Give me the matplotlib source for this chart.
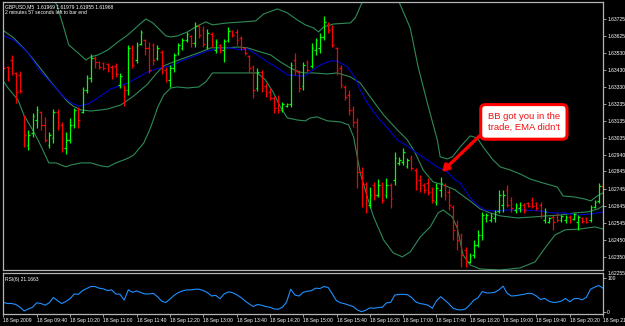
import numpy as np
import matplotlib.pyplot as plt

plt.rcParams["font.family"] = ["Liberation Sans", "DejaVu Sans"]

# GBPUSD M5, 18 Sep 2009, one bar every 5 minutes from 09:00 to 21:00
bar_open = [
    1.63488, 1.63448, 1.63488, 1.63413, 1.63402, 1.63165, 1.62997, 1.63066, 1.63141, 1.63188,
    1.63113, 1.62997, 1.63037, 1.63188, 1.63113, 1.62980, 1.63026, 1.63113, 1.63199, 1.63188,
    1.63315, 1.63384, 1.63500, 1.63477, 1.63471, 1.63465, 1.63448, 1.63454, 1.63344, 1.63338,
    1.63315, 1.63558, 1.63488, 1.63581, 1.63604, 1.63558, 1.63575, 1.63500, 1.63534, 1.63430,
    1.63373, 1.63442, 1.63529, 1.63558, 1.63604, 1.63627, 1.63586, 1.63685, 1.63662, 1.63563,
    1.63638, 1.63546, 1.63575, 1.63546, 1.63604, 1.63656, 1.63650, 1.63615, 1.63558, 1.63511,
    1.63448, 1.63326, 1.63419, 1.63338, 1.63303, 1.63269, 1.63257, 1.63199, 1.63222, 1.63234,
    1.63488, 1.63419, 1.63338, 1.63477, 1.63454, 1.63546, 1.63558, 1.63621, 1.63696, 1.63673,
    1.63558, 1.63442, 1.63332, 1.63286, 1.63199, 1.63130, 1.62841, 1.62772, 1.62650, 1.62766,
    1.62708, 1.62766, 1.62708, 1.62766, 1.62795, 1.62893, 1.62899, 1.62876, 1.62922, 1.62852,
    1.62795, 1.62766, 1.62777, 1.62748, 1.62667, 1.62737, 1.62766, 1.62725, 1.62639, 1.62535,
    1.62477, 1.62390, 1.62321, 1.62361, 1.62419, 1.62477, 1.62575, 1.62563, 1.62575, 1.62615,
    1.62650, 1.62737, 1.62679, 1.62621, 1.62633, 1.62650, 1.62662, 1.62679, 1.62662, 1.62650,
    1.62563, 1.62552, 1.62581, 1.62592, 1.62563, 1.62563, 1.62581, 1.62569, 1.62552, 1.62575,
    1.62575, 1.62563, 1.62639, 1.62673, 1.62760,
]
bar_high = [
    1.63500, 1.63454, 1.63517, 1.63419, 1.63425, 1.63170, 1.63084, 1.63182, 1.63222, 1.63193,
    1.63159, 1.63072, 1.63205, 1.63205, 1.63130, 1.63072, 1.63153, 1.63211, 1.63217, 1.63332,
    1.63402, 1.63523, 1.63511, 1.63482, 1.63477, 1.63471, 1.63459, 1.63471, 1.63413, 1.63344,
    1.63575, 1.63575, 1.63592, 1.63662, 1.63610, 1.63592, 1.63586, 1.63575, 1.63546, 1.63448,
    1.63459, 1.63529, 1.63586, 1.63615, 1.63650, 1.63633, 1.63708, 1.63696, 1.63685, 1.63667,
    1.63650, 1.63610, 1.63581, 1.63610, 1.63679, 1.63662, 1.63667, 1.63627, 1.63563, 1.63517,
    1.63459, 1.63442, 1.63430, 1.63355, 1.63326, 1.63280, 1.63286, 1.63245, 1.63240, 1.63477,
    1.63529, 1.63430, 1.63477, 1.63488, 1.63586, 1.63615, 1.63644, 1.63743, 1.63708, 1.63691,
    1.63563, 1.63459, 1.63344, 1.63315, 1.63222, 1.63153, 1.62870, 1.62783, 1.62754, 1.62783,
    1.62800, 1.62783, 1.62806, 1.62777, 1.62956, 1.62928, 1.62980, 1.62922, 1.62939, 1.62864,
    1.62824, 1.62777, 1.62806, 1.62754, 1.62777, 1.62812, 1.62777, 1.62748, 1.62650, 1.62563,
    1.62488, 1.62407, 1.62373, 1.62448, 1.62506, 1.62610, 1.62604, 1.62604, 1.62621, 1.62737,
    1.62737, 1.62766, 1.62696, 1.62662, 1.62667, 1.62662, 1.62667, 1.62696, 1.62667, 1.62667,
    1.62633, 1.62581, 1.62592, 1.62604, 1.62592, 1.62592, 1.62592, 1.62604, 1.62592, 1.62581,
    1.62581, 1.62650, 1.62679, 1.62777, 1.62777,
]
bar_low = [
    1.63430, 1.63367, 1.63402, 1.63240, 1.63297, 1.62985, 1.62968, 1.63043, 1.63095, 1.63084,
    1.63014, 1.62980, 1.63008, 1.63084, 1.62956, 1.62945, 1.63008, 1.63095, 1.63095, 1.63182,
    1.63297, 1.63361, 1.63442, 1.63436, 1.63430, 1.63419, 1.63378, 1.63390, 1.63326, 1.63222,
    1.63286, 1.63442, 1.63471, 1.63575, 1.63517, 1.63413, 1.63459, 1.63488, 1.63407, 1.63361,
    1.63332, 1.63419, 1.63517, 1.63546, 1.63592, 1.63563, 1.63563, 1.63615, 1.63563, 1.63552,
    1.63563, 1.63529, 1.63529, 1.63477, 1.63592, 1.63621, 1.63575, 1.63546, 1.63517, 1.63413,
    1.63269, 1.63309, 1.63303, 1.63274, 1.63257, 1.63182, 1.63182, 1.63188, 1.63217, 1.63217,
    1.63402, 1.63303, 1.63315, 1.63419, 1.63442, 1.63517, 1.63529, 1.63604, 1.63644, 1.63563,
    1.63402, 1.63326, 1.63257, 1.63170, 1.63101, 1.62748, 1.62639, 1.62604, 1.62633, 1.62679,
    1.62696, 1.62662, 1.62691, 1.62633, 1.62766, 1.62881, 1.62881, 1.62864, 1.62852, 1.62737,
    1.62725, 1.62720, 1.62708, 1.62662, 1.62650, 1.62696, 1.62679, 1.62621, 1.62448, 1.62390,
    1.62292, 1.62292, 1.62315, 1.62344, 1.62407, 1.62448, 1.62552, 1.62552, 1.62552, 1.62604,
    1.62610, 1.62639, 1.62610, 1.62604, 1.62610, 1.62604, 1.62639, 1.62633, 1.62621, 1.62575,
    1.62546, 1.62546, 1.62506, 1.62552, 1.62552, 1.62546, 1.62546, 1.62563, 1.62506, 1.62546,
    1.62546, 1.62552, 1.62633, 1.62662, 1.62720,
]
bar_close = [
    1.63442, 1.63384, 1.63413, 1.63303, 1.63309, 1.63055, 1.63055, 1.63165, 1.63199, 1.63113,
    1.63026, 1.63055, 1.63188, 1.63113, 1.62980, 1.63026, 1.63113, 1.63199, 1.63141, 1.63315,
    1.63384, 1.63500, 1.63477, 1.63448, 1.63442, 1.63430, 1.63396, 1.63407, 1.63396, 1.63315,
    1.63558, 1.63459, 1.63575, 1.63650, 1.63558, 1.63430, 1.63488, 1.63558, 1.63419, 1.63373,
    1.63442, 1.63517, 1.63575, 1.63604, 1.63638, 1.63586, 1.63685, 1.63633, 1.63581, 1.63644,
    1.63575, 1.63592, 1.63546, 1.63598, 1.63656, 1.63633, 1.63604, 1.63563, 1.63529, 1.63442,
    1.63315, 1.63419, 1.63326, 1.63292, 1.63269, 1.63211, 1.63199, 1.63234, 1.63234, 1.63459,
    1.63430, 1.63326, 1.63459, 1.63430, 1.63558, 1.63604, 1.63621, 1.63708, 1.63662, 1.63575,
    1.63430, 1.63344, 1.63274, 1.63199, 1.63130, 1.62841, 1.62806, 1.62679, 1.62708, 1.62708,
    1.62766, 1.62679, 1.62766, 1.62691, 1.62922, 1.62910, 1.62956, 1.62910, 1.62864, 1.62783,
    1.62748, 1.62737, 1.62725, 1.62679, 1.62748, 1.62777, 1.62708, 1.62650, 1.62506, 1.62448,
    1.62361, 1.62321, 1.62355, 1.62419, 1.62477, 1.62592, 1.62592, 1.62587, 1.62610, 1.62708,
    1.62708, 1.62650, 1.62633, 1.62644, 1.62650, 1.62621, 1.62644, 1.62644, 1.62633, 1.62592,
    1.62610, 1.62575, 1.62552, 1.62563, 1.62587, 1.62581, 1.62558, 1.62598, 1.62581, 1.62558,
    1.62552, 1.62639, 1.62667, 1.62760, 1.62737,
]

# Bollinger bands and EMA (bar position, price)
bb_upper_bar = [0.1, 7.8, 11.4, 12.8, 14.3, 15.7, 17.9, 19.8, 21.0, 22.7, 25.1, 27.5, 29.9, 32.3,
                34.2, 35.9, 37.1, 39.0, 40.2, 41.8, 44.2, 46.6, 48.6, 50.2, 53.8, 57.7, 60.6, 62.5,
                65.8, 68.2, 70.6, 72.5, 74.5, 75.7, 76.9, 79.3, 83.3, 84.5, 86.2, 88.6, 91.7, 94.1,
                94.8, 97.7, 99.6, 101.8, 104.2, 104.9, 106.6, 107.8, 109.7, 112.1, 113.8, 115.2,
                117.6, 119.3, 121.7, 124.1, 126.5, 129.6, 133.0, 134.4, 137.1, 139.5, 141.1, 142.6,
                144.0]
bb_upper = [1.63980, 1.63939, 1.63864, 1.63806, 1.63691, 1.63575, 1.63529, 1.63488, 1.63506,
            1.63517, 1.63546, 1.63592, 1.63633, 1.63685, 1.63725, 1.63702, 1.63673, 1.63627,
            1.63621, 1.63627, 1.63650, 1.63685, 1.63708, 1.63691, 1.63702, 1.63708, 1.63714,
            1.63754, 1.63783, 1.63760, 1.63719, 1.63691, 1.63673, 1.63650, 1.63679, 1.63696,
            1.63702, 1.63731, 1.63823, 1.63980, 1.64037, 1.63893, 1.63835, 1.63673, 1.63448,
            1.63240, 1.63026, 1.62928, 1.62916, 1.62928, 1.62985, 1.63049, 1.63037, 1.62985,
            1.62910, 1.62870, 1.62852, 1.62829, 1.62800, 1.62777, 1.62754, 1.62702, 1.62696,
            1.62685, 1.62673, 1.62702, 1.62720]

bb_mid_bar = [0.1, 2.5, 5.9, 9.0, 11.4, 13.8, 15.5, 16.7, 18.6, 21.0, 23.4, 25.1, 28.2, 31.3,
              34.7, 36.6, 38.5, 40.9, 44.2, 47.4, 49.8, 53.8, 56.2, 58.6, 61.8, 64.2, 66.5, 68.9,
              70.9, 72.5, 74.5, 77.8, 80.2, 83.3, 85.7, 88.1, 91.3, 94.6, 97.0, 98.9, 100.8, 103.2,
              105.6, 108.5, 109.7, 112.1, 114.5, 116.9, 119.3, 123.4, 127.5, 130.6, 133.9, 137.1,
              140.4, 142.8, 144.0]
bb_mid = [1.63656, 1.63615, 1.63529, 1.63436, 1.63361, 1.63292, 1.63245, 1.63222, 1.63199,
          1.63193, 1.63199, 1.63205, 1.63228, 1.63280, 1.63350, 1.63407, 1.63454, 1.63477,
          1.63506, 1.63534, 1.63558, 1.63558, 1.63563, 1.63558, 1.63534, 1.63517, 1.63477,
          1.63442, 1.63419, 1.63413, 1.63413, 1.63407, 1.63413, 1.63390, 1.63355, 1.63274,
          1.63170, 1.63084, 1.63026, 1.62951, 1.62852, 1.62783, 1.62766, 1.62737, 1.62714,
          1.62673, 1.62627, 1.62604, 1.62587, 1.62575, 1.62581, 1.62587, 1.62592, 1.62604,
          1.62610, 1.62627, 1.62644]

bb_lower_bar = [0.1, 1.1, 3.5, 4.9, 6.6, 8.3, 9.7, 10.9, 12.6, 15.0, 16.2, 18.6, 21.0, 23.4,
                25.1, 27.0, 28.9, 30.1, 31.3, 33.7, 34.9, 35.4, 36.6, 37.1, 38.5, 40.2, 41.8, 44.2,
                46.9, 48.6, 50.2, 52.2, 54.6, 57.7, 61.0, 62.9, 64.9, 66.5, 68.2, 70.6, 72.5, 73.7,
                75.4, 77.8, 80.9, 82.9, 84.1, 85.7, 87.4, 88.9, 91.3, 93.6, 95.8, 97.7, 100.1,
                102.5, 104.4, 105.6, 107.8, 109.0, 110.4, 112.1, 114.5, 119.3, 124.1, 127.7,
                130.1, 132.5, 134.9, 138.5, 142.1, 144.0]
bb_lower = [1.63361, 1.63326, 1.63257, 1.63170, 1.63101, 1.63026, 1.62956, 1.62893, 1.62893,
            1.62870, 1.62881, 1.62893, 1.62893, 1.62876, 1.62870, 1.62893, 1.62910, 1.62922,
            1.62939, 1.63008, 1.63072, 1.63101, 1.63182, 1.63217, 1.63286, 1.63326, 1.63332,
            1.63326, 1.63332, 1.63361, 1.63413, 1.63413, 1.63413, 1.63413, 1.63413, 1.63373,
            1.63297, 1.63217, 1.63153, 1.63141, 1.63136, 1.63153, 1.63159, 1.63136, 1.63130,
            1.63113, 1.63043, 1.62835, 1.62696, 1.62581, 1.62448, 1.62373, 1.62350, 1.62378,
            1.62465, 1.62523, 1.62604, 1.62621, 1.62581, 1.62517, 1.62361, 1.62303, 1.62280,
            1.62274, 1.62286, 1.62321, 1.62402, 1.62477, 1.62506, 1.62511, 1.62523, 1.62511]

ema_bar = [0.1, 2.5, 5.9, 9.0, 12.1, 14.5, 16.7, 18.1, 20.3, 22.7, 25.8, 29.9, 34.7, 36.6, 40.2,
           43.3, 46.6, 49.0, 51.4, 54.6, 57.0, 58.6, 61.0, 63.4, 65.8, 68.2, 70.6, 72.5, 73.7,
           76.1, 78.5, 80.2, 82.6, 84.5, 85.7, 87.4, 89.8, 92.2, 94.6, 97.0, 98.9, 101.8, 104.2,
           106.6, 108.5, 109.7, 112.1, 113.8, 115.5, 117.9, 121.0, 125.1, 129.1, 131.5, 134.6,
           137.8, 141.1, 144.0]
ema = [1.63627, 1.63604, 1.63529, 1.63419, 1.63338, 1.63274, 1.63234, 1.63222, 1.63234, 1.63269,
       1.63321, 1.63355, 1.63419, 1.63436, 1.63454, 1.63488, 1.63517, 1.63540, 1.63552, 1.63558,
       1.63546, 1.63552, 1.63517, 1.63477, 1.63442, 1.63402, 1.63396, 1.63396, 1.63419, 1.63459,
       1.63482, 1.63482, 1.63448, 1.63384, 1.63315, 1.63240, 1.63159, 1.63095, 1.63026, 1.62991,
       1.62956, 1.62910, 1.62870, 1.62841, 1.62795, 1.62777, 1.62691, 1.62650, 1.62621, 1.62615,
       1.62621, 1.62621, 1.62615, 1.62604, 1.62604, 1.62592, 1.62598, 1.62610]

# RSI(6), one value per bar
rsi = [
    28, 25, 25, 22, 14, 3, 9, 14, 27, 25,
    20, 27, 43, 33, 25, 31, 39, 53, 52, 63,
    69, 75, 75, 70, 68, 63, 65, 53, 52, 35,
    65, 58, 62, 57, 53, 53, 55, 45, 32, 28,
    38, 49, 57, 62, 65, 65, 67, 67, 63, 57,
    47, 49, 39, 53, 59, 57, 51, 43, 33, 24,
    16, 22, 20, 16, 14, 9, 8, 14, 29, 67,
    50, 47, 58, 61, 63, 70, 69, 75, 72, 53,
    33, 27, 24, 20, 16, 6, 1, 5, 12, 11,
    13, 14, 27, 28, 50, 52, 52, 51, 43, 30,
    25, 23, 20, 11, 33, 45, 35, 24, 11, 7,
    6, 9, 21, 35, 42, 60, 56, 56, 58, 65,
    76, 55, 47, 48, 50, 52, 55, 54, 47, 37,
    40, 32, 28, 29, 32, 40, 30, 39, 40, 36,
    43, 67, 73, 78, 70,
]

price_ticks = [1.63725, 1.63625, 1.63530, 1.63430, 1.63330, 1.63235, 1.63135, 1.63035,
               1.62940, 1.62845, 1.62745, 1.62645, 1.62545, 1.62450, 1.62350]
time_ticks = list(range(0, 145, 8))
# the last label runs off the right edge of the window, only "18 Sep 21" shows
time_labels = ["18 Sep 2009", "18 Sep 09:40", "18 Sep 10:20", "18 Sep 11:00", "18 Sep 11:40",
               "18 Sep 12:20", "18 Sep 13:00", "18 Sep 13:40", "18 Sep 14:20", "18 Sep 15:00",
               "18 Sep 15:40", "18 Sep 16:20", "18 Sep 17:00", "18 Sep 17:40", "18 Sep 18:20",
               "18 Sep 19:00", "18 Sep 19:40", "18 Sep 20:20", "18 Sep 21"]

UP = "#00ff00"
DOWN = "#ff0000"
BB_COLOR = "#2e8b57"
EMA_COLOR = "#0000cd"
RSI_COLOR = "#1e90ff"
FRAME = "#b4b4b4"
SMALL = 3.6

W, H = 625, 326
fig = plt.figure(figsize=(W / 100, H / 100), dpi=100, facecolor="black")
ax = fig.add_axes([3 / W, 1 - 270 / H, 600 / W, 268 / H], facecolor="black")
ax_rsi = fig.add_axes([3 / W, 1 - 314 / H, 600 / W, 41 / H], facecolor="black", sharex=ax)

o = np.array(bar_open)
hi = np.array(bar_high)
lo = np.array(bar_low)
c = np.array(bar_close)
x = np.arange(len(c))
colors = np.where(c >= o, UP, DOWN)

ax.plot(bb_upper_bar, bb_upper, color=BB_COLOR, lw=0.8)
ax.plot(bb_mid_bar, bb_mid, color=BB_COLOR, lw=0.8)
ax.plot(bb_lower_bar, bb_lower, color=BB_COLOR, lw=0.8)
ax.plot(ema_bar, ema, color=EMA_COLOR, lw=0.8)

ax.vlines(x, lo, hi, colors=colors, lw=0.9)
ax.hlines(o, x - 0.4, x, colors=colors, lw=0.9)
ax.hlines(c, x, x + 0.4, colors=colors, lw=0.9)

ax.set_xlim(-0.1, 143.8)
ax.set_ylim(1.62274, 1.63823)

for a in (ax, ax_rsi):
    for s in a.spines.values():
        s.set_color(FRAME)
        s.set_linewidth(0.9)
    a.yaxis.tick_right()
    a.tick_params(axis="y", colors=FRAME, labelcolor="white", labelsize=SMALL,
                  length=2, width=0.6, pad=1)

ax.set_yticks(price_ticks)
ax.set_yticklabels([f"{v:.5f}" for v in price_ticks])
ax.tick_params(axis="x", bottom=False, labelbottom=False)
ax.annotate("1.62255", xy=(1.0, 1.62255), xycoords=("axes fraction", "data"),
            xytext=(3, 0), textcoords="offset points", color="white",
            fontsize=SMALL, va="center", annotation_clip=False)

ax.text(0.004, 0.992, "GBPUSD,M5  1.61969 1.61979 1.61955 1.61968", transform=ax.transAxes,
        color="white", fontsize=SMALL, va="top")
ax.text(0.004, 0.97, "2 minutes 57 seconds left to bar end", transform=ax.transAxes,
        color="white", fontsize=SMALL, va="top")

ax.annotate("BB got you in the\ntrade, EMA didn't", xy=(105.3, 1.62841), xytext=(125.0, 1.63130),
            ha="center", va="center", color="#ee1111", fontsize=6.8, linespacing=1.35,
            bbox=dict(boxstyle="round,pad=0.75,rounding_size=0.5", fc="white", ec="#ff0000", lw=2.2),
            arrowprops=dict(arrowstyle="-|>,head_length=0.55,head_width=0.32", color="#ff0000",
                            lw=2.4, relpos=(0.0, 0.2), shrinkA=0, shrinkB=0))

ax_rsi.plot(x, rsi, color=RSI_COLOR, lw=0.8)
ax_rsi.set_ylim(-5.9, 114.7)
ax_rsi.set_yticks([0, 100])
ax_rsi.set_yticklabels(["0", "100"])
ax_rsi.text(0.004, 0.9, "RSI(6) 21.1663", transform=ax_rsi.transAxes, color="white",
            fontsize=SMALL, va="top")

ax_rsi.set_xticks(time_ticks)
ax_rsi.set_xticklabels(time_labels)
ax_rsi.tick_params(axis="x", colors=FRAME, labelcolor="white", labelsize=SMALL,
                   length=2, width=0.6, pad=1)
for lbl in ax_rsi.get_xticklabels():
    lbl.set_ha("left")

fig.savefig("out.png", dpi=100, facecolor="black")
